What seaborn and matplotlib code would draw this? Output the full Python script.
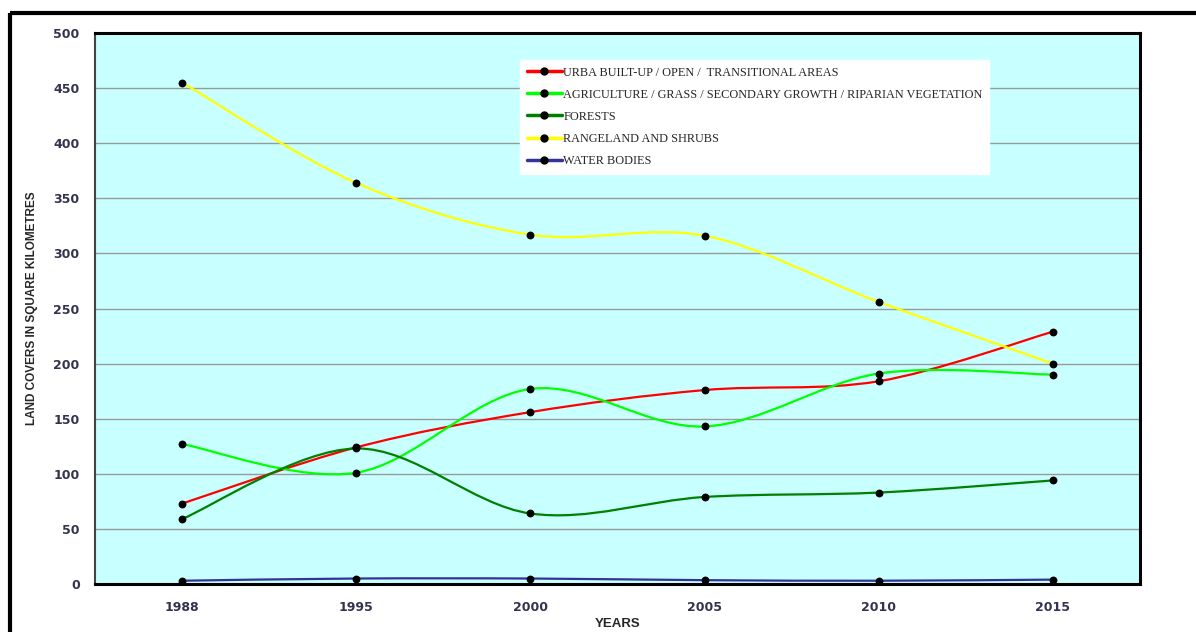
import numpy as np
import pandas as pd
import matplotlib
matplotlib.use('Agg')
import matplotlib.pyplot as plt
import seaborn as sns
from matplotlib.path import Path
from matplotlib.patches import PathPatch
from matplotlib.lines import Line2D

years = ['1988', '1995', '2000', '2005', '2010', '2015']
urban = [73, 124, 156, 176, 184, 229]
agriculture = [127, 101, 177, 143, 191, 190]
forests = [59, 123, 64, 79, 83, 94]
rangeland = [455, 364, 317, 316, 256, 200]
water = [3, 5, 5, 3.5, 3, 4]

series_names = ['URBA BUILT-UP / OPEN /  TRANSITIONAL AREAS',
                'AGRICULTURE / GRASS / SECONDARY GROWTH / RIPARIAN VEGETATION',
                'FORESTS',
                'RANGELAND AND SHRUBS',
                'WATER BODIES']
series_values = [urban, agriculture, forests, rangeland, water]
series_colors = ['#FF0000', '#00FF00', '#008000', '#FFFF00', '#333399']

pos = np.arange(len(years))
df = pd.concat([pd.DataFrame({'pos': pos, 'value': v, 'series': n})
                for n, v in zip(series_names, series_values)], ignore_index=True)


def smooth_path(xs, ys):
    # excel-style smoothed line: cubic bezier through every point
    pts = np.column_stack([xs, ys]).astype(float)
    n = len(pts)
    verts = [pts[0]]
    codes = [Path.MOVETO]
    for i in range(n - 1):
        p0 = pts[max(i - 1, 0)]
        p1 = pts[i]
        p2 = pts[i + 1]
        p3 = pts[min(i + 2, n - 1)]
        verts += [p1 + (p2 - p0) / 6, p2 - (p3 - p1) / 6, p2]
        codes += [Path.CURVE4] * 3
    return Path(verts, codes)


sns.set_style("white")

fig = plt.figure(figsize=(11.96, 6.32), dpi=100)
ax = fig.add_axes([0.0794, 0.0759, 0.8738, 0.8719])
ax.set_facecolor('#C8FFFF')

for name, color in zip(series_names, series_colors):
    sub = df[df['series'] == name]
    ax.add_patch(PathPatch(smooth_path(sub['pos'], sub['value']),
                           facecolor='none', edgecolor=color, lw=1.6, zorder=2))

sns.scatterplot(data=df, x='pos', y='value', color='black', s=32,
                edgecolor='black', linewidth=0, legend=False, zorder=3, ax=ax)

ax.set_xlim(-0.5, len(years) - 0.5)
ax.set_ylim(0, 500)
ax.set_yticks(np.arange(0, 501, 50))
ax.set_xticks(pos)
ax.set_xticklabels(years)
ax.set_xticks(np.arange(0.5, len(years) - 0.5, 1), minor=True)

ax.yaxis.grid(True, color='#999999', lw=1)
ax.xaxis.grid(False)
ax.set_axisbelow(True)

tick_font = dict(family='DejaVu Sans', weight='bold', size=9)
for lbl in ax.get_xticklabels() + ax.get_yticklabels():
    lbl.set_fontproperties(matplotlib.font_manager.FontProperties(**tick_font))
    lbl.set_color('#33334F')

ax.tick_params(axis='x', which='major', length=0, pad=12)
ax.tick_params(axis='x', which='minor', length=5, width=1, color='#888888', direction='out')
ax.tick_params(axis='y', length=5, width=1, color='#888888', direction='out', pad=6)

for side in ['top', 'right', 'bottom']:
    ax.spines[side].set_color('black')
    ax.spines[side].set_linewidth(2.2)
ax.spines['left'].set_color('#444444')
ax.spines['left'].set_linewidth(1.5)

ax.set_xlabel('YEARS', fontsize=9.5, fontweight='bold', family='Liberation Sans')
ax.set_ylabel('LAND COVERS IN SQUARE KILOMETRES', fontsize=8.5, fontweight='bold',
              family='Liberation Sans')
ax.xaxis.set_label_coords(0.5, -0.062)
ax.yaxis.set_label_coords(-0.0545, 0.5)

handles = [Line2D([], [], color=c, lw=2.5, marker='o', markersize=5,
                  markerfacecolor='black', markeredgecolor='black')
           for c in series_colors]
leg = ax.legend(handles, series_names, loc='upper left',
                bbox_to_anchor=(0.4067, 0.951), borderaxespad=0,
                prop=dict(family='Liberation Serif', size=8.8),
                handlelength=2.9, handletextpad=0.1, labelspacing=0.82,
                borderpad=0.55, frameon=True, fancybox=False, framealpha=1)
leg.get_frame().set_facecolor('white')
leg.get_frame().set_edgecolor('white')

# outer frame of the picture (top and left edges)
fig.add_artist(Line2D([10 / 1196, 1], [1 - 13 / 632] * 2, transform=fig.transFigure,
                      color='black', lw=3, solid_capstyle='butt'))
fig.add_artist(Line2D([10 / 1196] * 2, [0, 1 - 13 / 632], transform=fig.transFigure,
                      color='black', lw=3, solid_capstyle='butt'))

fig.savefig('out.png', dpi=100)
